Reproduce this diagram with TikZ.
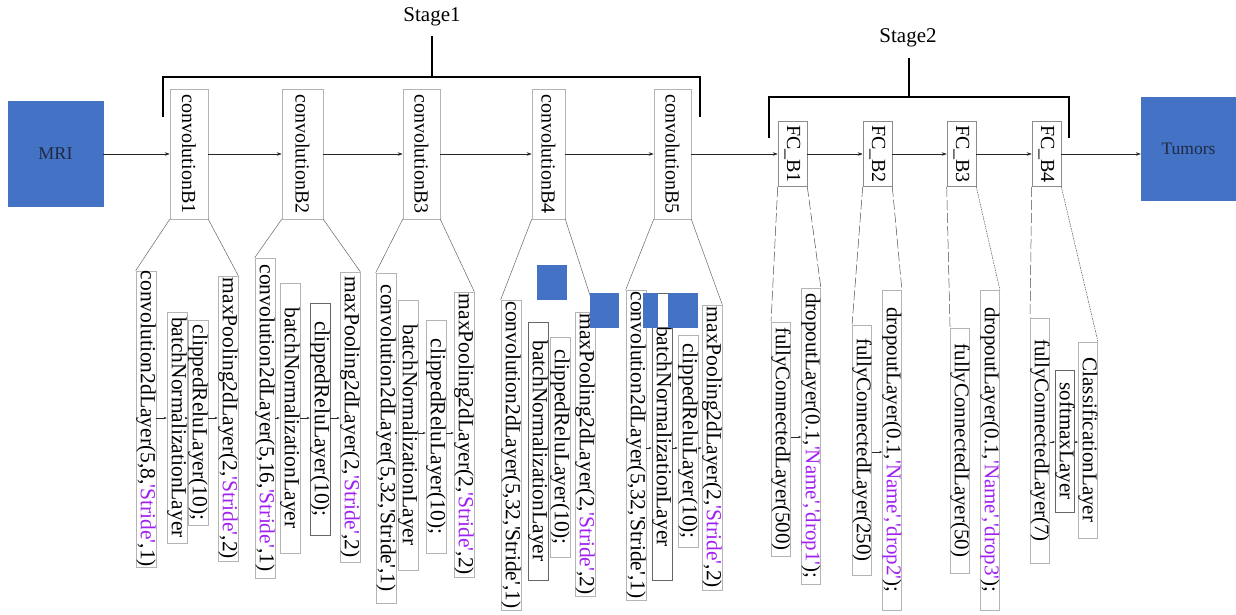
\documentclass[tikz,border=0pt]{standalone}
\usepackage{fontspec}
\setmainfont{Liberation Serif}[Ligatures=TeXOff]
\usetikzlibrary{arrows.meta}
\definecolor{boxblue}{HTML}{4472C4}
\definecolor{navytxt}{HTML}{1F2A44}
\definecolor{strc}{HTML}{A020F0}
\definecolor{edgegray}{HTML}{B4B4B4}
\newcommand{\sq}[1]{\textcolor{strc}{#1}}
\begin{document}
\begin{tikzpicture}[x=1pt,y=-1pt,
  blk/.style={rectangle, fill=boxblue, draw=boxblue, text=navytxt, inner sep=0pt},
  cblk/.style={rectangle, draw=edgegray, line width=0.6pt, rotate=-90, font=\fontsize{20}{20}\selectfont, inner sep=0pt},
  lay/.style={rectangle, draw=edgegray, line width=0.6pt, rotate=-90, font=\fontsize{21.5}{21.5}\selectfont, inner sep=0pt, minimum height=20pt},
  fcl/.style={lay, minimum height=18pt, font=\fontsize{21}{21}\selectfont},
  dk/.style={draw=black!60},
  arr/.style={-{Stealth[length=5pt,width=3.5pt]}, line width=0.5pt, draw=black!85},
  sarr/.style={-{Stealth[length=3pt,width=2.4pt]}, line width=0.4pt, draw=black!85},
  call/.style={line width=0.5pt, draw=black!60},
  lng/.style={line width=0.5pt, draw=black!70, dash pattern=on 10pt off 3pt},
  dot/.style={line width=0.5pt, draw=black!70, dash pattern=on 1.5pt off 1pt},
  brk/.style={line width=1.8pt, draw=black},
  stg/.style={font=\fontsize{21}{21}\selectfont, inner sep=0pt},
]
\useasboundingbox (0,0) rectangle (1236,615);

% stage labels and brackets
\node[stg] (st1) at (432,17) {Stage1};
\node[stg] (st2) at (908,38) {Stage2};
\draw[brk] (163,117) -- (163,77) -- (700,77) -- (700,117);
\draw[brk] (432,77) -- (432,36);
\draw[brk] (769,138) -- (769,97) -- (1069,97) -- (1069,138);
\draw[brk] (909,97) -- (909,58);

% main row
\node[blk, minimum width=95pt, minimum height=105pt, font=\fontsize{18}{18}\selectfont] (mri) at (55.5,154) {MRI};
\node[blk, minimum width=95pt, minimum height=103pt, font=\fontsize{17.5}{17.5}\selectfont] (tum) at (1188.5,148.5) {Tumors};
\node[cblk, minimum width=130pt, minimum height=38pt] (cb1) at (189,154) {convolutionB1};
\node[cblk, minimum width=130pt, minimum height=41pt] (cb2) at (302.5,154) {convolutionB2};
\node[cblk, minimum width=130pt, minimum height=37pt] (cb3) at (421.5,154) {convolutionB3};
\node[cblk, minimum width=130pt, minimum height=33pt] (cb4) at (548.5,154) {convolutionB4};
\node[cblk, minimum width=130pt, minimum height=37pt] (cb5) at (672.5,154) {convolutionB5};
\node[cblk, draw=black!45, minimum width=65pt, minimum height=29pt] (fc1) at (792.5,154) {FC\_B1};
\node[cblk, draw=black!45, minimum width=65pt, minimum height=29pt] (fc2) at (877.5,154) {FC\_B2};
\node[cblk, draw=black!45, minimum width=65pt, minimum height=29pt] (fc3) at (961.5,154) {FC\_B3};
\node[cblk, draw=black!45, minimum width=65pt, minimum height=29pt] (fc4) at (1046.5,154) {FC\_B4};

\draw[arr] (mri.east) -- (cb1.south);
\draw[arr] (cb1.north) -- (cb2.south);
\draw[arr] (cb2.north) -- (cb3.south);
\draw[arr] (cb3.north) -- (cb4.south);
\draw[arr] (cb4.north) -- (cb5.south);
\draw[arr] (cb5.north) -- (fc1.south);
\draw[arr] (fc1.north) -- (fc2.south);
\draw[arr] (fc2.north) -- (fc3.south);
\draw[arr] (fc3.north) -- (fc4.south);
\draw[arr] (fc4.north) -- (fc4.north -| tum.west);

% block 1
\node[lay, minimum width=292pt] (b1c) at (146,419) {convolution2dLayer(5,8,\sq{'Stride'},1)};
\node[lay, minimum width=231pt] (b1n) at (177,427.5) {batchNormalizationLayer};
\node[lay, minimum width=205pt] (b1r) at (198,422.5) {clippedReluLayer(10);};
\node[lay, minimum width=285pt] (b1m) at (228,418.5) {maxPooling2dLayer(2,\sq{'Stride'},2)};
% block 2
\node[lay, minimum width=320pt] (b2c) at (265,418) {convolution2dLayer(5,16,\sq{'Stride'},1)};
\node[lay, minimum width=270pt] (b2n) at (290,418) {batchNormalizationLayer};
\node[lay, dk, minimum width=232pt] (b2r) at (320,419) {clippedReluLayer(10);};
\node[lay, minimum width=290pt] (b2m) at (350,417) {maxPooling2dLayer(2,\sq{'Stride'},2)};
% block 3
\node[lay, minimum width=330pt] (b3c) at (386,438) {convolution2dLayer(5,32,'Stride',1)};
\node[lay, minimum width=270pt] (b3n) at (408,435) {batchNormalizationLayer};
\node[lay, minimum width=233pt] (b3r) at (436,436.5) {clippedReluLayer(10);};
\node[lay, minimum width=285pt] (b3m) at (464,434.5) {maxPooling2dLayer(2,\sq{'Stride'},2)};
% block 4
\node[lay, minimum width=310pt] (b4c) at (511,455) {convolution2dLayer(5,32,'Stride',1)};
\node[lay, dk, minimum width=258pt] (b4n) at (538,451) {batchNormalizationLayer};
\node[lay, minimum width=220pt] (b4r) at (560,447) {clippedReluLayer(10);};
\node[lay, minimum width=284pt] (b4m) at (585,454) {maxPooling2dLayer(2,\sq{'Stride'},2)};
% block 5
\node[lay, minimum width=310pt] (b5c) at (636,445) {convolution2dLayer(5,32,'Stride',1)};
\node[lay, dk, minimum width=287pt] (b5n) at (662,436.5) {batchNormalizationLayer};
\node[lay, minimum width=212pt] (b5r) at (688,441) {clippedReluLayer(10);};
\node[lay, minimum width=285pt] (b5m) at (712,447.5) {maxPooling2dLayer(2,\sq{'Stride'},2)};

% fully connected stage
\node[fcl, minimum width=234pt] (f1a) at (781,439) {fullyConnectedLayer(500)};
\node[fcl, minimum width=296pt] (f1b) at (811,436) {dropoutLayer(0.1,\sq{'Name','drop1'});};
\node[fcl, minimum width=250pt] (f2a) at (862,450) {fullyConnectedLayer(250)};
\node[fcl, minimum width=320pt] (f2b) at (892,450) {dropoutLayer(0.1,\sq{'Name','drop2'});};
\node[fcl, minimum width=245pt] (f3a) at (960,450.5) {fullyConnectedLayer(50)};
\node[fcl, minimum width=320pt] (f3b) at (990,450) {dropoutLayer(0.1,\sq{'Name','drop3'});};
\node[fcl, minimum width=245pt] (f4a) at (1040,440.5) {fullyConnectedLayer(7)};
\node[fcl, dk, minimum width=142pt] (f4b) at (1065,441) {softmaxLayer};
\node[fcl, minimum width=196pt] (f4c) at (1088,440) {ClassificationLayer};

% callout lines
\draw[call] (cb1.south east) -- (b1c.south west);
\draw[call] (cb1.north east) -- (b1m.north west);
\draw[call] (cb2.south east) -- (b2c.south west);
\draw[call] (cb2.north east) -- (b2m.north west);
\draw[call] (cb3.south east) -- (b3c.south west);
\draw[call] (cb3.north east) -- (b3m.north west);
\draw[call] (cb4.south east) -- (b4c.south west);
\draw[call] (cb4.north east) -- (b4m.north west);
\draw[call] (cb5.south east) -- (b5c.south west);
\draw[call] (cb5.north east) -- (b5m.north west);
\draw[lng] (fc1.south east) -- (f1a.south west);
\draw[lng] (fc1.north east) -- (f1b.north west);
\draw[lng] (fc2.south east) -- (f2a.south west);
\draw[lng] (fc2.north east) -- (f2b.north west);
\draw[lng] (fc3.south east) -- (f3a.south west);
\draw[dot] (fc3.north east) -- (f3b.north west);
\draw[lng] (fc4.south east) -- (f4a.south west);
\draw[dot] (fc4.north east) -- (f4c.north west);

% small arrows inside blocks
\coordinate (ya) at (0,418);
\coordinate (yb) at (0,433);
\coordinate (yc) at (0,448);
\coordinate (yd) at (0,437);
\coordinate (ye) at (0,452);
\coordinate (yf) at (0,442);
\draw[sarr] (b1c.north |- ya) -- (b1n.south |- ya);
\draw[sarr] (b1n.north |- ya) -- (b1r.south |- ya);
\draw[sarr] (b1r.north |- ya) -- (b1m.south |- ya);
\draw[sarr] (b2c.north |- ya) -- (b2n.south |- ya);
\draw[sarr] (b2n.north |- ya) -- (b2r.south |- ya);
\draw[sarr] (b2r.north |- ya) -- (b2m.south |- ya);
\draw[sarr] (b3c.north |- yb) -- (b3n.south |- yb);
\draw[sarr] (b3n.north |- yb) -- (b3r.south |- yb);
\draw[sarr] (b3r.north |- yb) -- (b3m.south |- yb);
\draw[sarr] (b5c.north |- yc) -- (b5n.south |- yc);
\draw[sarr] (b5n.north |- yc) -- (b5r.south |- yc);
\draw[sarr] (b5r.north |- yc) -- (b5m.south |- yc);
\draw[sarr] (f1a.north |- yd) -- (f1b.south |- yd);
\draw[sarr] (f2a.north |- ye) -- (f2b.south |- ye);
\draw[sarr] (f4a.north |- yf) -- (f4b.south |- yf);
\draw[sarr] (f4b.north |- yf) -- (f4c.south |- yf);

% blue patches
\fill[boxblue] (537,265) rectangle (567,300);
\fill[boxblue] (590,293) rectangle (619,328);
\fill[boxblue] (643,293) rectangle (658,328);
\fill[boxblue] (668,293) rectangle (698,328);
\end{tikzpicture}
\end{document}
